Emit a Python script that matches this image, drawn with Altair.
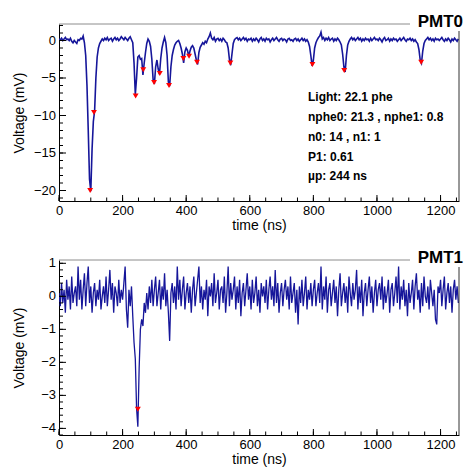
import altair as alt
import pandas as pd

DT = 4  # ns between samples

pmt0_mv = [
    0.2, 0.1, 0.3, 0.0, 0.2, 0.4, 0.1, 0.2, 0.0, 0.3, -0.1, -0.3, 0.0, -0.2, -0.4, 0.1, 0.0, 0.3, 0.2, 0.6, -0.3, -2.0, -6.0, -12.0, -18.5,
    -20.1, -14.5, -10.8, -9.4, -5.0, -2.2, -1.0, -0.4, -0.1, 0.2, 0.0, 0.3, 0.1, 0.4, 0.0, 0.2, 0.3, -0.1, 0.2, 0.4, 0.1, 0.3, 0.0, 0.2, 0.5,
    0.3, 0.1, 0.4, 0.2, 0.0, 0.3, 0.5, 0.1, -0.3, -3.0, -7.2, -5.0, -2.2, -2.0, -2.5, -2.4, -4.6, -3.0, -1.6, -0.4, 0.2, -0.1, -0.8, -2.5, -5.2,
    -5.8, -3.5, -2.6, -3.8, -4.5, -2.4, -1.0, -0.2, 0.4, -0.3, -2.0, -5.5, -6.1, -3.5, -2.0, -1.2, -0.6, -0.3, -0.1, 0.0, -0.4, -1.0, -1.8, -3.0, -1.5,
    -1.0, -1.3, -2.1, -1.4, -0.9, -0.7, -1.0, -1.8, -2.6, -3.2, -1.6, -0.9, -0.6, -0.3, -0.5, -0.1, -0.3, 0.2, 0.5, 1.0, 0.3, 0.1, 0.4, -0.1, 0.2,
    0.3, 0.0, 0.2, -0.1, 0.3, 0.1, -0.2, -0.3, -1.0, -2.5, -3.3, -1.8, -0.4, 0.1, 0.3, 0.4, 0.1, 0.3, 0.0, 0.2, 0.4, 0.1, 0.3, -0.1, 0.2,
    0.1, 0.3, -0.1, 0.2, 0.0, 0.3, 0.1, -0.2, 0.2, 0.4, 0.0, 0.2, -0.1, 0.3, 0.1, 0.2, -0.2, 0.1, 0.3, 0.0, 0.2, 0.4, 0.1, -0.1, 0.2,
    0.3, 0.0, 0.2, 0.1, -0.2, 0.2, 0.3, 0.0, 0.1, -0.1, 0.2, 0.3, 0.0, 0.2, -0.1, 0.1, 0.3, 0.0, 0.2, -0.1, 0.1, -0.2, -0.8, -2.0, -3.4,
    -2.6, -1.0, -0.3, 0.1, 0.4, 0.6, 1.1, 0.2, 0.4, 0.0, 0.3, 0.1, 0.4, 0.0, 0.2, 0.3, -0.1, 0.2, 0.0, 0.3, 0.1, -0.2, -0.6, -1.8, -3.5,
    -4.2, -2.0, -0.6, -0.1, 0.2, 0.4, 0.1, 0.3, 0.0, 0.2, 0.4, 0.1, 0.3, -0.1, 0.2, 0.0, 0.3, 0.1, 0.2, -0.1, 0.3, 0.0, 0.2, 0.4, 0.1,
    0.2, 0.0, 0.3, 0.1, -0.2, 0.2, 0.4, 0.0, 0.1, 0.3, -0.1, 0.2, 0.0, 0.3, 0.1, 0.2, -0.1, 0.1, 0.3, 0.0, 0.2, 0.4, 0.1, -0.1, 0.2,
    0.1, 0.3, 0.0, 0.2, -0.1, 0.1, -0.2, -0.4, -1.2, -2.6, -3.0, -1.4, -0.4, 0.0, 0.2, 0.4, 0.1, 0.3, 0.0, 0.2, -0.1, 0.3, 0.1, 0.2, 0.0,
    0.2, 0.4, 0.1, -0.1, 0.2, 0.0, 0.3, 0.1, -0.2, 0.2, 0.0, 0.3, 0.1, -0.1, 0.2,
]

pmt1_mv = [
    0.1, -0.3, 0.4, -0.2, 0.2, -0.5, 0.5, -0.1, 0.3, -0.4, 0.6, -0.2, 0.1, 0.3, -0.3, 0.9, -0.1, 0.5, -0.4, 0.2, 0.7, -0.3, 0.4, 0.9, -0.2,
    0.3, -0.5, 0.1, 0.4, -0.3, 0.2, -0.1, 0.5, -0.4, 0.0, 0.3, -0.2, 0.6, -0.3, 0.2, 0.8, -0.1, 0.4, -0.5, 0.3, 0.1, -0.3, 0.5, -0.2, 0.2,
    -0.1, 0.4, 0.9, -0.4, -0.95, 0.2, -0.3, 0.3, -0.6, -1.4, -1.9, -3.4, -3.95, -2.2, -1.0, -0.7, -0.9, -0.2, -0.5, 0.1, -0.4, 0.3, -0.2, 0.5, -0.3,
    0.2, 0.6, -0.3, 0.1, 0.5, -0.4, 0.3, -0.1, 0.7, -0.3, 0.2, -0.5, -1.35, 0.1, 0.4, -0.2, 0.3, -0.4, 0.9, -0.1, 0.5, -0.3, 0.2, 0.6, -0.4,
    0.1, 0.4, -0.2, 0.3, -0.5, 0.2, 0.6, -0.3, 0.1, 0.5, 0.9, -0.2, 0.3, -0.4, 0.2, -0.1, 0.5, -0.6, 0.3, 0.0, 0.4, -0.3, 0.7, -0.2, 0.1,
    0.5, -0.4, 0.2, 0.3, -0.2, 0.6, -0.5, 0.1, 0.9, -0.3, 0.4, -0.1, 0.2, 0.6, -0.4, 0.3, -0.2, 0.5, -0.6, 0.1, 0.4, -0.3, 0.2, 0.7, -0.1,
    0.3, -0.4, 0.5, -0.2, 0.1, 0.6, -0.3, 0.2, -0.5, 0.4, 0.0, 0.3, -0.2, 0.5, -0.4, 0.2, 0.6, -0.1, 0.3, -0.3, 0.8, -0.2, 0.4, -0.5, 0.1,
    0.4, -0.3, 0.2, 0.5, -0.1, 0.3, -0.4, 0.6, -0.2, 0.1, 0.4, -0.5, 0.2, -0.85, 0.3, -0.2, 0.5, -0.3, 0.1, 0.6, -0.4, 0.2, -0.1, 0.4, -0.3,
    0.2, 0.5, -0.3, 0.1, 0.4, -0.2, 0.9, -0.4, 0.3, -0.1, 0.6, -0.5, 0.2, 0.4, -0.3, 0.1, 0.5, -0.2, 0.3, -0.6, 0.2, 0.7, -0.3, 0.1, 0.4,
    -0.2, 0.3, -0.5, 0.6, 0.1, -0.3, 0.4, -0.1, 0.2, 0.8, -0.4, 0.3, -0.2, 0.5, -0.6, 0.1, 0.4, -0.3, 0.2, 0.6, -0.2, 0.3, -0.5, 0.1, 0.5,
    -0.3, 0.2, 0.4, -0.1, 0.6, -0.4, 0.3, -0.2, 0.1, 0.5, -0.5, 0.2, 0.4, -0.3, 0.1, 0.6, -0.2, 0.9, -0.4, 0.3, -0.1, 0.5, -0.3, 0.2, -0.6,
    0.4, -0.2, 0.1, 0.5, -0.4, 0.3, 0.7, -0.1, 0.2, -0.5, 0.4, -0.3, 0.6, 0.0, -0.2, 0.3, -0.4, 0.5, 0.1, -0.3, 0.2, -0.7, -0.85, 0.3, 0.1,
    0.5, -0.3, 0.2, 0.6, -0.4, 0.1, 0.4, -0.2, 0.3, -0.5, 0.2, 0.5, -0.1, 0.3, -0.2,
]

pmt0_peak_t = [98, 110, 241, 265, 299, 317, 346, 391, 409, 434, 539, 797, 897, 1139]
pmt0_peak_mv = [-20.0, -9.6, -7.4, -3.9, -5.6, -4.4, -6.0, -2.4, -2.1, -2.9, -3.0, -3.2, -4.0, -2.9]
pmt1_peak_t = [248]
pmt1_peak_mv = [-3.42]

x_major = [0, 200, 400, 600, 800, 1000, 1200]
x_minor = [50 * i for i in range(26)]
pmt0_y_major = [0, -5, -10, -15, -20]
pmt0_y_minor = [i for i in range(-21, 3)]
pmt1_y_major = [1, 0, -1, -2, -3, -4]
pmt1_y_minor = [round(-4.2 + 0.2 * i, 1) for i in range(27)]

stats_lines = ["Light: 22.1 phe", "nphe0: 21.3 , nphe1: 0.8", "n0: 14 , n1: 1", "P1: 0.61", "\u00b5p: 244 ns"]

FONT = "Liberation Sans"
W = 400
LINE_COLOR = "#16169a"


def panel(wave, pk_t, pk_v, ydom, ymajor, yminor, H, title, lw, stats=None):
    df = pd.DataFrame({"t": [i * DT for i in range(len(wave))], "v": wave})
    xs = alt.Scale(domain=[0, 1258], nice=False, zero=False)
    ys = alt.Scale(domain=ydom, nice=False, zero=False)
    x = alt.X("t:Q", scale=xs, axis=alt.Axis(values=x_major, ticks=False, grid=False, format="d",
              title="time (ns)", labelPadding=3, titleX=W / 2, titleY=28,
              titleBaseline="alphabetic", domainColor="black", labelFlush=False,
              labelOverlap=False))
    y = alt.Y("v:Q", scale=ys, axis=alt.Axis(values=ymajor, ticks=False, grid=False, labels=False,
              title="Voltage (mV)", titleX=-40, titleY=H / 2,
              titleAngle=270, titleBaseline="middle", domainColor="black"))
    layers = []
    layers.append(alt.Chart(df).mark_line(color=LINE_COLOR, strokeWidth=lw, clip=True).encode(x=x, y=y))
    layers.append(alt.Chart(pd.DataFrame({"t": pk_t, "v": pk_v})).mark_point(
        shape="triangle-down", filled=True, color="#ff0000", opacity=1, size=35).encode(x="t:Q", y="v:Q"))
    # inward ticks (ROOT style)
    layers.append(alt.Chart(pd.DataFrame({"t": x_major})).mark_rule(color="black").encode(
        x="t:Q", y=alt.value(H), y2=alt.value(H - 6)))
    layers.append(alt.Chart(pd.DataFrame({"t": x_minor})).mark_rule(color="black").encode(
        x="t:Q", y=alt.value(H), y2=alt.value(H - 3.5)))
    layers.append(alt.Chart(pd.DataFrame({"v": ymajor})).mark_rule(color="black").encode(
        y="v:Q", x=alt.value(0), x2=alt.value(7)))
    layers.append(alt.Chart(pd.DataFrame({"v": yminor})).mark_rule(color="black", clip=True).encode(
        y="v:Q", x=alt.value(0), x2=alt.value(4)))
    # y tick labels
    layers.append(alt.Chart(pd.DataFrame({"v": ymajor})).mark_text(
        align="right", baseline="middle", font=FONT, fontSize=13, color="black").encode(
        y="v:Q", x=alt.value(-3), text=alt.Text("v:Q", format="d")))
    # frame: top (gray, interrupted by the title box) and right
    one = pd.DataFrame({"a": [0]})
    layers.append(alt.Chart(one).mark_rule(color="#8c8c8c").encode(
        x=alt.value(0), x2=alt.value(351), y=alt.value(0)))
    layers.append(alt.Chart(one).mark_rule(color="#333333").encode(
        x=alt.value(W), y=alt.value(7), y2=alt.value(H)))
    layers.append(alt.Chart(one).mark_text(text=title, align="right", baseline="alphabetic",
        font=FONT, fontSize=17, fontWeight="bold", color="black").encode(
        x=alt.value(404), y=alt.value(2.5)))
    if stats:
        offs = [76.5, 96.5, 117, 137, 156]
        for line, yy in zip(stats, offs):
            layers.append(alt.Chart(one).mark_text(text=line, align="left", baseline="alphabetic",
                font=FONT, fontSize=12, fontWeight="bold", color="black").encode(
                x=alt.value(249), y=alt.value(yy)))
    return alt.layer(*layers).properties(width=W, height=H)


top = panel(pmt0_mv, pmt0_peak_t, pmt0_peak_mv, [-21.4, 2.2], pmt0_y_major, pmt0_y_minor, 177, "PMT0", 1.6, stats_lines)
bottom = panel(pmt1_mv, pmt1_peak_t, pmt1_peak_mv, [-4.2, 1.1], pmt1_y_major, pmt1_y_minor, 175, "PMT1", 1.3)

chart = alt.vconcat(top, bottom, spacing=16).properties(
    padding={"left": 12, "top": 12, "right": 5, "bottom": 3}
).configure_view(strokeWidth=0).configure_axis(
    labelFont=FONT, labelFontSize=13, labelColor="black",
    titleFont=FONT, titleFontSize=14, titleFontWeight="normal", titleColor="black",
    domainWidth=1
)

chart.save("out.html", embed_options={"renderer": "svg", "actions": False})
